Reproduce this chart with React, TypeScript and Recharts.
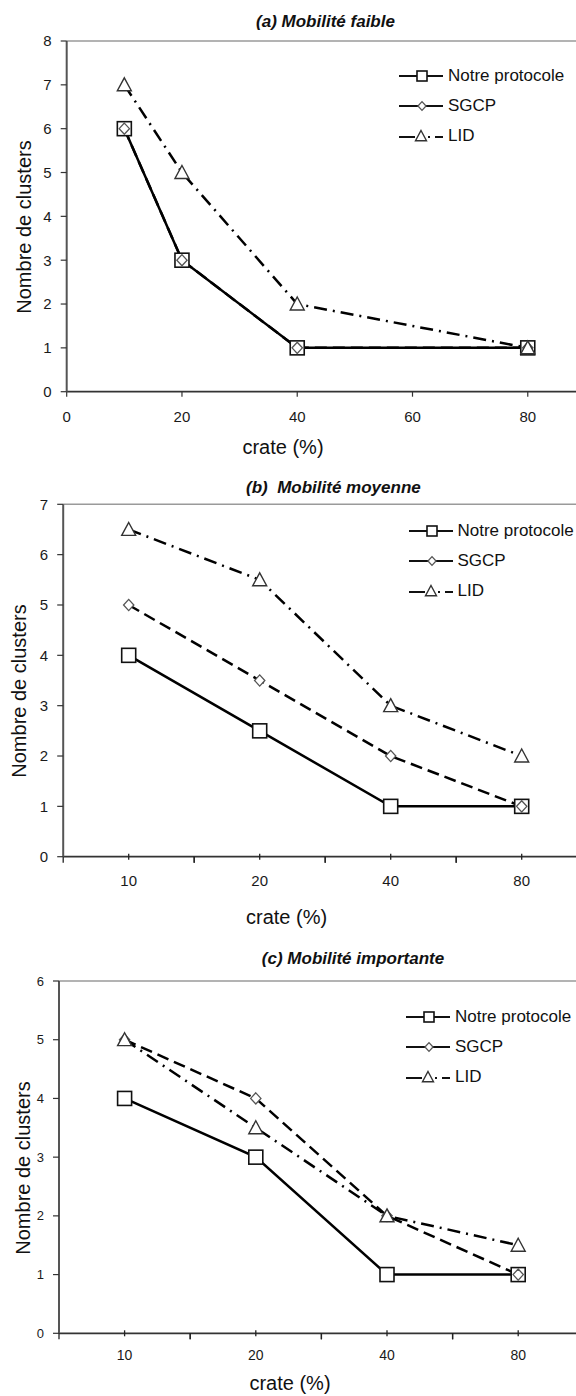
import { Line, LineChart, ReferenceLine, XAxis, YAxis } from "recharts";

const FONT = '"Liberation Sans", Arial, sans-serif';

// crate (%) categories
const crate = [10, 20, 40, 80];
const crateTicksFaible = [0, 20, 40, 60, 80];

// (a) mobilité faible
const notreFaible = [6, 3, 1, 1];
const sgcpFaible = [6, 3, 1, 1];
const lidFaible = [7, 5, 2, 1];

// (b) mobilité moyenne
const notreMoyenne = [4, 2.5, 1, 1];
const sgcpMoyenne = [5, 3.5, 2, 1];
const lidMoyenne = [6.5, 5.5, 3, 2];

// (c) mobilité importante
const notreImportante = [4, 3, 1, 1];
const sgcpImportante = [5, 4, 2, 1];
const lidImportante = [5, 3.5, 2, 1.5];

const yTicksFaible = [0, 1, 2, 3, 4, 5, 6, 7, 8];
const yTicksMoyenne = [0, 1, 2, 3, 4, 5, 6, 7];
const yTicksImportante = [0, 1, 2, 3, 4, 5, 6];

const series = [
  { key: "notre", name: "Notre protocole", dash: undefined, shape: "square" },
  { key: "sgcp", name: "SGCP", dash: "12 6", shape: "diamond" },
  { key: "lid", name: "LID", dash: "13 6 2 6", shape: "triangle" }
];

function buildRows(notre: number[], sgcp: number[], lid: number[]) {
  return crate.map((c, i) => ({ crate: c, notre: notre[i], sgcp: sgcp[i], lid: lid[i] }));
}

const W = 600;
const YW = 50;
const XH = 30;

function marker(shape: string, size: number, cx: number, cy: number) {
  const h = size / 2;
  if (shape === "square") {
    return <rect x={cx - h} y={cy - h} width={size} height={size} fill="#fff" stroke="#111" strokeWidth={1.6} />;
  }
  if (shape === "diamond") {
    const d = h * 0.8;
    return (
      <path
        d={`M${cx},${cy - d} L${cx + d * 0.92},${cy} L${cx},${cy + d} L${cx - d * 0.92},${cy} Z`}
        fill="#fff"
        stroke="#555"
        strokeWidth={1.3}
      />
    );
  }
  return (
    <path
      d={`M${cx},${cy - h} L${cx + h},${cy + h * 0.85} L${cx - h},${cy + h * 0.85} Z`}
      fill="#fff"
      stroke="#333"
      strokeWidth={1.4}
    />
  );
}

function dotFor(shape: string) {
  return (props: any) => (
    <g key={`${shape}-${props.index}`}>{marker(shape, 14, props.cx, props.cy)}</g>
  );
}

function LegendSymbol({ shape }: { shape: string }) {
  if (shape === "triangle") {
    return (
      <svg width={44} height={14}>
        <line x1={0} x2={16} y1={8} y2={8} stroke="#111" strokeWidth={2} />
        <line x1={29} x2={31} y1={8} y2={8} stroke="#111" strokeWidth={2} />
        <line x1={36} x2={44} y1={8} y2={8} stroke="#111" strokeWidth={2} />
        {marker(shape, 11, 22, 7)}
      </svg>
    );
  }
  return (
    <svg width={44} height={14}>
      <line x1={0} x2={44} y1={7} y2={7} stroke="#111" strokeWidth={2} />
      {marker(shape, shape === "square" ? 10 : 11, 23, 7)}
    </svg>
  );
}

function LegendBox({ left, top }: { left: number; top: number }) {
  return (
    <div style={{ position: "absolute", left, top, fontFamily: FONT, fontSize: 17, color: "#111" }}>
      {series.map((s) => (
        <div key={s.key} style={{ display: "flex", alignItems: "center", height: 30 }}>
          <LegendSymbol shape={s.shape} />
          <span style={{ marginLeft: 5, whiteSpace: "nowrap" }}>{s.name}</span>
        </div>
      ))}
    </div>
  );
}

function CategoryTick(props: any) {
  const { x, y, payload, band, fontSize, gap } = props;
  return (
    <g>
      <line x1={x} x2={x} y1={y - 3} y2={y + 3} stroke="#222" strokeWidth={1.3} />
      <line x1={x - band / 2} x2={x - band / 2} y1={y} y2={y + 6} stroke="#222" strokeWidth={1.3} />
      <line x1={x + band / 2} x2={x + band / 2} y1={y} y2={y + 6} stroke="#222" strokeWidth={1.3} />
      <text
        x={x}
        y={y + gap}
        textAnchor="middle"
        dominantBaseline="central"
        fontSize={fontSize}
        fontFamily={FONT}
        fill="#1a1a1a"
      >
        {payload.value}
      </text>
    </g>
  );
}

interface PanelProps {
  top: number;
  height: number;
  margin: { top: number; right: number; bottom: number; left: number };
  rows: ReturnType<typeof buildRows>;
  yTicks: number[];
  numericX?: boolean;
  xTicks?: number[];
  tickFont: number;
  xTickFont: number;
  xGap: number;
  title: string;
  titlePos: [number, number];
  xLabelPos: [number, number];
  yLabelPos: [number, number];
  legendPos: [number, number];
}

function Panel(p: PanelProps) {
  const yMax = p.yTicks[p.yTicks.length - 1];
  const band = (W - p.margin.left - YW - p.margin.right) / crate.length;
  const text = (pos: [number, number], style: any, content: string) => (
    <div
      style={{
        position: "absolute",
        left: pos[0],
        top: pos[1],
        transform: "translate(-50%, -50%)" + (style.rotate ? " rotate(-90deg)" : ""),
        whiteSpace: "pre",
        fontFamily: FONT,
        color: "#111",
        lineHeight: 1,
        ...style.css
      }}
    >
      {content}
    </div>
  );

  return (
    <div style={{ position: "absolute", left: 0, top: p.top, width: W, height: p.height }}>
      <LineChart width={W} height={p.height} data={p.rows} margin={p.margin}>
        {p.numericX ? (
          <XAxis
            dataKey="crate"
            type="number"
            domain={[0, 90]}
            ticks={p.xTicks}
            height={XH}
            stroke="#333"
            axisLine={{ stroke: "#333", strokeWidth: 1.8 }}
            tickLine={{ stroke: "#333", strokeWidth: 1.2 }}
            tickSize={5}
            tickMargin={p.xGap}
            tick={{ fill: "#1a1a1a", fontSize: p.xTickFont, fontFamily: FONT }}
          />
        ) : (
          <XAxis
            dataKey="crate"
            type="category"
            height={XH}
            padding={{ left: band / 2, right: band / 2 }}
            axisLine={{ stroke: "#333", strokeWidth: 1.8 }}
            tickLine={false}
            tickSize={0}
            tickMargin={0}
            interval={0}
            tick={(tp: any) => <CategoryTick {...tp} band={band} fontSize={p.xTickFont} gap={p.xGap} />}
          />
        )}
        <YAxis
          type="number"
          domain={[0, yMax]}
          ticks={p.yTicks}
          width={YW}
          interval={0}
          axisLine={{ stroke: "#555", strokeWidth: 2 }}
          tickLine={{ stroke: "#333", strokeWidth: 1.2 }}
          tickSize={6}
          tickMargin={9}
          tick={{ fill: "#1a1a1a", fontSize: p.tickFont, fontFamily: FONT }}
        />
        <ReferenceLine y={yMax} stroke="#9a9a9a" strokeWidth={1.5} />
        {series.map((s) => (
          <Line
            key={s.key}
            dataKey={s.key}
            name={s.name}
            type="linear"
            stroke="#000"
            strokeWidth={2.5}
            strokeDasharray={s.dash}
            dot={dotFor(s.shape)}
            activeDot={false}
            isAnimationActive={false}
          />
        ))}
      </LineChart>
      <LegendBox left={p.legendPos[0]} top={p.legendPos[1]} />
      {text(p.titlePos, { css: { fontSize: 17, fontWeight: "bold", fontStyle: "italic" } }, p.title)}
      {text(p.xLabelPos, { css: { fontSize: 20 } }, "crate (%)")}
      {text(p.yLabelPos, { rotate: true, css: { fontSize: 20 } }, "Nombre de clusters")}
    </div>
  );
}

export default function App() {
  return (
    <div
      style={{
        position: "absolute",
        left: 0,
        top: 0,
        width: 576,
        height: 1396,
        overflow: "hidden",
        background: "#fff"
      }}
    >
      <Panel
        top={0}
        height={460}
        margin={{ top: 41, right: 14.6, bottom: 38.3, left: 16.7 }}
        rows={buildRows(notreFaible, sgcpFaible, lidFaible)}
        yTicks={yTicksFaible}
        numericX
        xTicks={crateTicksFaible}
        tickFont={15}
        xTickFont={15}
        xGap={14.7}
        title="(a) Mobilité faible"
        titlePos={[325.5, 20.7]}
        xLabelPos={[283, 446.7]}
        yLabelPos={[24.4, 226.7]}
        legendPos={[399, 60.7]}
      />
      <Panel
        top={460}
        height={480}
        margin={{ top: 44.3, right: 12.8, bottom: 53.3, left: 13.2 }}
        rows={buildRows(notreMoyenne, sgcpMoyenne, lidMoyenne)}
        yTicks={yTicksMoyenne}
        tickFont={15}
        xTickFont={15}
        xGap={24}
        title="(b)  Mobilité moyenne"
        titlePos={[333.4, 26.7]}
        xLabelPos={[286.6, 456.7]}
        yLabelPos={[19.3, 230.8]}
        legendPos={[408.5, 56]}
      />
      <Panel
        top={940}
        height={456}
        margin={{ top: 41, right: 16.2, bottom: 32.7, left: 9 }}
        rows={buildRows(notreImportante, sgcpImportante, lidImportante)}
        yTicks={yTicksImportante}
        tickFont={13}
        xTickFont={14}
        xGap={21.7}
        title="(c) Mobilité importante"
        titlePos={[353, 18]}
        xLabelPos={[290, 443]}
        yLabelPos={[23, 228.3]}
        legendPos={[406, 62.3]}
      />
    </div>
  );
}
